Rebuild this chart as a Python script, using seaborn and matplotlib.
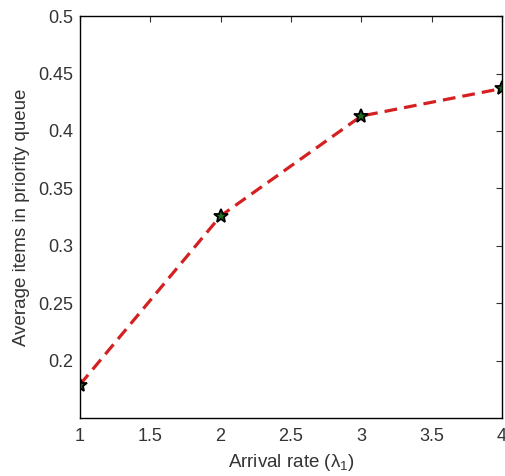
import matplotlib
matplotlib.use("Agg")
import matplotlib.pyplot as plt
import seaborn as sns
import pandas as pd

arrival_rate = [1, 2, 3, 4]
avg_items = [0.179, 0.326, 0.413, 0.437]
x_ticks = [1, 1.5, 2, 2.5, 3, 3.5, 4]
y_ticks = [0.2, 0.25, 0.3, 0.35, 0.4, 0.45, 0.5]

sns.set_style("white")
plt.rcParams['font.family'] = ['Liberation Sans', 'DejaVu Sans']

df = pd.DataFrame({"x": arrival_rate, "y": avg_items})
fig = plt.figure(figsize=(5.06, 4.76), dpi=100)
ax = fig.add_axes([0.158, 0.122, 0.834, 0.844])
sns.lineplot(data=df, x="x", y="y", ax=ax, color="#d42020", linestyle=(0, (4, 2.2)),
             linewidth=2.3, marker="*", markersize=10, markerfacecolor="#1d6b1d",
             markeredgecolor="black", markeredgewidth=1.3)
ax.set_xlim(1, 4)
ax.set_ylim(0.15, 0.5)
ax.set_xticks(x_ticks)
ax.set_xticklabels(["1", "1.5", "2", "2.5", "3", "3.5", "4"])
ax.set_yticks(y_ticks)
ax.set_yticklabels(["0.2", "0.25", "0.3", "0.35", "0.4", "0.45", "0.5"])
ax.tick_params(direction="in", length=4, width=0.8, labelsize=13, colors="#333333",
               top=True, right=True, pad=7)
ax.tick_params(axis="y", pad=5)
ax.set_xlabel("Arrival rate ($\\mathregular{\\lambda_1}$)", fontsize=13.5, labelpad=5, color="#333333")
ax.set_ylabel("Average items in priority queue", fontsize=13.5, labelpad=6, color="#333333")
for s in ax.spines.values():
    s.set_color("black")
    s.set_linewidth(1.0)
fig.savefig("out.png", dpi=100)
